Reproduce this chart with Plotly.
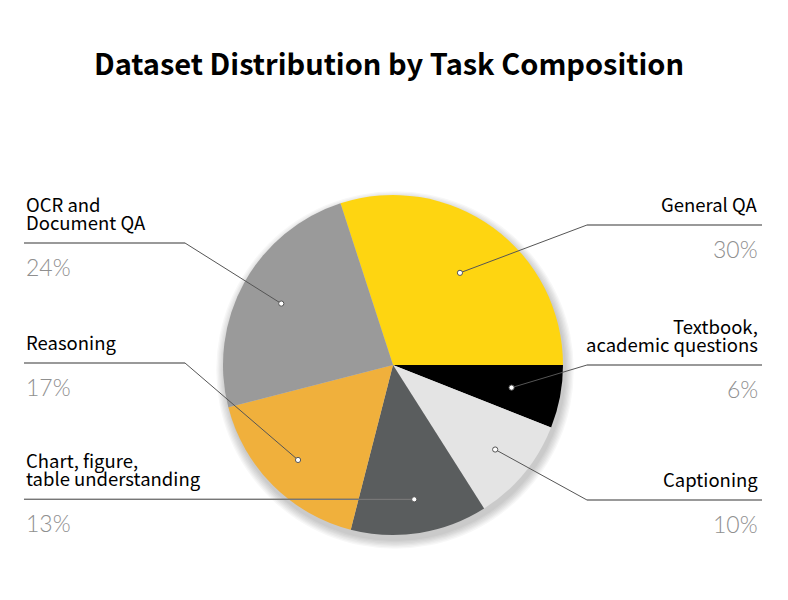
import numpy as np
import plotly.graph_objects as go

W, H = 788, 600
OFF = 8  # page body margin of the browser

labels = ["General QA", "Textbook,\nacademic questions", "Captioning",
          "Chart, figure,\ntable understanding", "Reasoning", "OCR and\nDocument QA"]
values = [30, 6, 10, 13, 17, 24]
colors = ["#fed511", "#000000", "#e4e4e4", "#5a5d5e", "#f0b03c", "#9a9a9a"]
sides = ["right", "right", "right", "left", "left", "left"]
line_y = [225, 365, 500, None, 363, 243]
dot_r = [0.67, 0.71, 0.78, 0.80, 0.79, 0.75]

# pie geometry (pixels)
cx, cy, R = 393, 365, 170
rotation = -18


def px(x):
    return (x - OFF) / W


def py(y):
    return 1 - (y - OFF) / H


fig = go.Figure()
fig.add_trace(go.Pie(
    labels=[l.replace("\n", " ") for l in labels],
    values=values,
    marker=dict(colors=colors, line=dict(width=0)),
    sort=False,
    direction="clockwise",
    rotation=rotation,
    textinfo="none",
    hoverinfo="label+percent",
    domain=dict(x=[px(cx - R), px(cx + R)], y=[py(cy + R), py(cy - R)]),
    showlegend=False,
))

shapes = []
# soft drop shadow under the pie
for k in range(7):
    r = R + 1 + k * 1.3
    sx, sy = cx + 2, cy + 5
    shapes.append(dict(type="circle", xref="paper", yref="paper", layer="below",
                       x0=px(sx - r), x1=px(sx + r), y0=py(sy + r), y1=py(sy - r),
                       fillcolor="rgba(0,0,0,0.03)", line=dict(width=0)))

annotations = []
total = sum(values)
start = rotation
for lab, v, side, ly, fr in zip(labels, values, sides, line_y, dot_r):
    mid = np.radians(start + v / total * 180)
    start += v / total * 360
    rr = fr * R
    dx, dy = cx + rr * np.sin(mid), cy - rr * np.cos(mid)

    if ly is None:
        ly = dy
        pts = [(dx, dy), (24, dy)]
    elif side == "left":
        pts = [(dx, dy), (185, ly), (24, ly)]
    else:
        pts = [(dx, dy), (587, ly), (762, ly)]
    tx, anchor = (24, "left") if side == "left" else (760, "right")

    path = "M " + " L ".join(f"{px(a):.5f},{py(b):.5f}" for a, b in pts[:2])
    shapes.append(dict(type="path", xref="paper", yref="paper", path=path,
                       line=dict(color="#555555", width=1), layer="above"))
    path = "M " + " L ".join(f"{px(a):.5f},{py(b):.5f}" for a, b in pts[-2:])
    shapes.append(dict(type="path", xref="paper", yref="paper", path=path,
                       line=dict(color="#777777", width=1.3), layer="above"))
    rd = 2.6
    shapes.append(dict(type="circle", xref="paper", yref="paper", layer="above",
                       x0=px(dx - rd), x1=px(dx + rd), y0=py(dy + rd), y1=py(dy - rd),
                       fillcolor="white", line=dict(color="#555555", width=1)))

    parts = lab.split("\n")
    for i, part in enumerate(parts):
        yy = ly - 21 - (len(parts) - 1 - i) * 18
        annotations.append(dict(text=part, x=px(tx), y=py(yy), xref="paper", yref="paper",
                                xanchor=anchor, yanchor="middle", showarrow=False,
                                font=dict(family="Noto Sans CJK KR", size=18.5,
                                          color="#000000")))
    annotations.append(dict(text=f"{v}%", x=px(tx), y=py(ly + 24), xref="paper", yref="paper",
                            xanchor=anchor, yanchor="middle", showarrow=False,
                            font=dict(family="Lato", size=23, color="#8f8f8f", weight=300)))

annotations.append(dict(text="<b>Dataset Distribution by Task Composition</b>",
                        x=px(389), y=py(62), xref="paper", yref="paper",
                        xanchor="center", yanchor="middle", showarrow=False,
                        font=dict(family="Noto Sans CJK KR", size=29, color="#000000")))

fig.update_layout(
    width=W, height=H,
    margin=dict(l=0, r=0, t=0, b=0),
    paper_bgcolor="white",
    plot_bgcolor="white",
    shapes=shapes,
    annotations=annotations,
    showlegend=False,
)

fig.write_html("out.html")
